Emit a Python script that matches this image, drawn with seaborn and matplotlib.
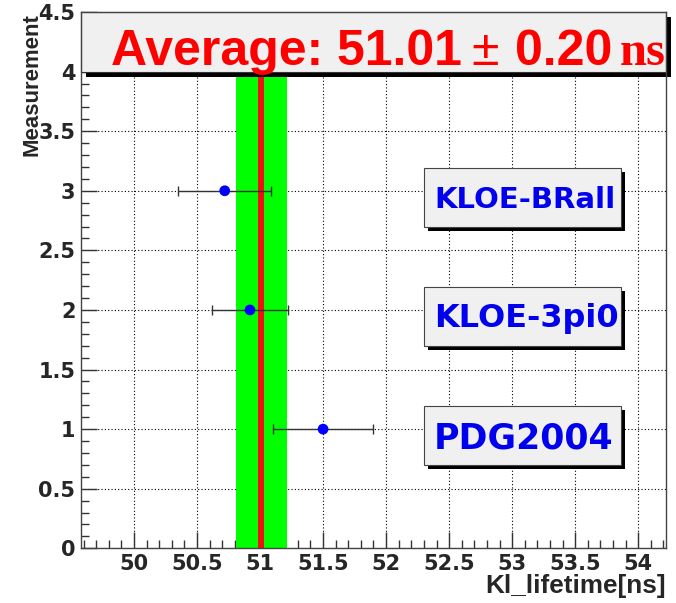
import numpy as np
import pandas as pd
import matplotlib
matplotlib.use("Agg")
import matplotlib.pyplot as plt
import seaborn as sns
from matplotlib.patches import Rectangle
from matplotlib.ticker import MultipleLocator

# measurements (Kl lifetime, ns)
labels = ["KLOE-BRall", "KLOE-3pi0", "PDG2004"]
positions = [3, 2, 1]
values = [50.72, 50.92, 51.50]
errors = [0.37, 0.30, 0.40]

avg_value = 51.01
avg_error = 0.20

x_ticks = [50, 50.5, 51, 51.5, 52, 52.5, 53, 53.5, 54]
y_ticks = [0, 0.5, 1, 1.5, 2, 2.5, 3, 3.5, 4, 4.5]

df = pd.DataFrame({"label": labels, "pos": positions, "value": values, "err": errors})

sns.set_theme(style="white")
plt.rcParams["font.family"] = ["DejaVu Sans"]
plt.rcParams["font.weight"] = "bold"

fig = plt.figure(figsize=(6.76, 6.03), dpi=100)
ax = fig.add_axes([81 / 676, 1 - 548.3 / 603, 585 / 676, 536.3 / 603])

ax.set_xlim(49.58, 54.22)
ax.set_ylim(0, 4.5)

# average band + central value
ax.axvspan(avg_value - avg_error, avg_value + avg_error, ymax=4.0 / 4.5,
           color="#00ff00", lw=0, zorder=1)
ax.axvline(avg_value, ymax=4.0 / 4.5, color="#ee1111", lw=4.3, zorder=2)

# measurements
ax.errorbar(df["value"], df["pos"], xerr=df["err"], fmt="none", ecolor="#333333",
            elinewidth=1, capsize=3.5, capthick=1, zorder=3)
sns.scatterplot(data=df, x="value", y="pos", ax=ax, color="#0000ff", s=60,
                edgecolor="none", zorder=4, legend=False)

# label boxes
px_x = 1 / 126.08
px_y = 1 / 119.2
label_sizes = [21, 23, 25]
for lab, pos, size in zip(labels, positions, label_sizes):
    x0, x1 = 52.30, 53.86
    y0, y1 = pos - 0.305, pos + 0.19
    ax.add_patch(Rectangle((x0 + 4 * px_x, y0 - 4 * px_y), x1 - x0, y1 - y0,
                           facecolor="black", edgecolor="none", zorder=5))
    ax.add_patch(Rectangle((x0, y0), x1 - x0, y1 - y0, facecolor="#f0f0f0",
                           edgecolor="#444444", lw=0.8, zorder=6))
    ax.text(52.38, pos - 0.075, lab, color="#0000ee", fontsize=size,
            fontweight="bold", ha="left", va="center", zorder=7)

# title box with the average
tx0, tx1 = 49.58, 54.22
ax.add_patch(Rectangle((tx0 + 5 * px_x, 4.0 - 5 * px_y), tx1 - tx0, 0.5,
                       facecolor="black", edgecolor="none", zorder=8, clip_on=False))
ax.add_patch(Rectangle((tx0, 4.0), tx1 - tx0, 0.5, facecolor="#f0f0f0",
                       edgecolor="#333333", lw=0.8, zorder=9, clip_on=False))
title_font = ["Liberation Sans", "DejaVu Sans"]
ax.text(49.82, 4.054, "Average: 51.01", color="#ff0000", fontsize=36,
        fontweight="bold", family=title_font, ha="left", va="baseline", zorder=10)
ax.text(52.675, 4.054, "\u00b1", color="#ff0000", fontsize=36,
        fontweight="normal", family=title_font, ha="left", va="baseline", zorder=10)
ax.text(53.025, 4.054, "0.20", color="#ff0000", fontsize=36,
        fontweight="bold", family=title_font, ha="left", va="baseline", zorder=10)
ax.text(53.855, 4.054, "ns", color="#ff0000", fontsize=35,
        fontweight="bold", family=["Liberation Serif", "DejaVu Serif"],
        ha="left", va="baseline", zorder=10)

# axes styling, ROOT look
ax.set_xticks(x_ticks)
ax.set_xticklabels([f"{t:g}" for t in x_ticks])
ax.set_yticks(y_ticks)
ax.set_yticklabels([f"{t:g}" for t in y_ticks])
ax.xaxis.set_minor_locator(MultipleLocator(0.1))
ax.yaxis.set_minor_locator(MultipleLocator(0.1))
ax.tick_params(axis="both", which="both", bottom=True, left=True, top=False, right=False)
ax.tick_params(axis="both", which="major", direction="in", length=11.5, width=1,
               color="#333333", labelsize=15, pad=4)
ax.tick_params(axis="both", which="minor", direction="in", length=6, width=1,
               color="#333333")
for t in ax.get_xticklabels() + ax.get_yticklabels():
    t.set_fontweight("bold")

ax.grid(True, which="major", linestyle=(0, (1, 2)), color="black", lw=0.8)
ax.set_axisbelow(True)
for side in ["left", "bottom", "top", "right"]:
    ax.spines[side].set_color("#444444")
    ax.spines[side].set_linewidth(1)
    ax.spines[side].set_zorder(11)

ax.set_xlabel("Kl_lifetime[ns]", loc="right", fontsize=18.8, fontweight="bold",
              family=["Liberation Sans", "DejaVu Sans"], va="baseline")
ax.xaxis.set_label_coords(1.0, -45 / 536.3)
ax.set_ylabel("Measurement", loc="top", fontsize=15.9, fontweight="bold",
              family=["Liberation Sans", "DejaVu Sans"], va="center")
ax.yaxis.set_label_coords(-49 / 585, 1.0 - 1 / 536.3)

fig.savefig("out.png", dpi=100)
